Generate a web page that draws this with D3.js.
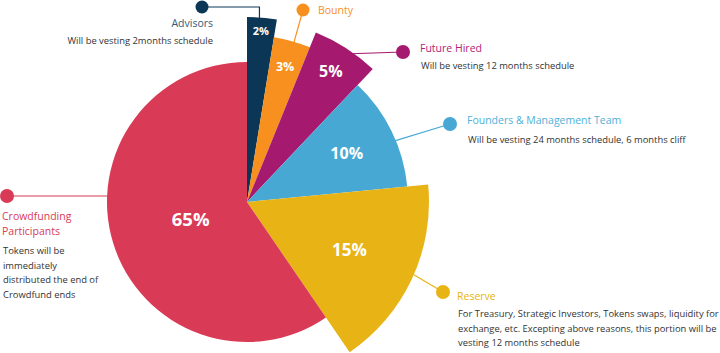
<!DOCTYPE html>
<html>
<head>
<meta charset="utf-8">
<script src="https://cdn.jsdelivr.net/npm/d3@7"></script>
<style>
  html, body { margin: 0; padding: 0; background: #fff; }
  svg { display: block; font-family: "Open Sans", sans-serif; }
</style>
</head>
<body>
<svg id="chart" width="720" height="353"></svg>
<script>
// ---- data ----
const categories = ["Advisors", "Bounty", "Future Hired", "Founders & Management Team", "Reserve", "Crowdfunding Participants"];
const percentLabels = ["2%", "3%", "5%", "10%", "15%", "65%"];
// slice shares as drawn in the picture (angular share, %)
const shares = [2.58, 3.56, 5.92, 11.4, 17.0, 59.54];
const descriptions = [
  ["Will be vesting 2months schedule"],
  [],
  ["Will be vesting 12 months schedule"],
  ["Will be vesting 24 months schedule, 6 months cliff"],
  ["For Treasury, Strategic Investors, Tokens swaps, liquidity for",
   "exchange, etc. Excepting above reasons, this portion will be",
   "vesting 12 months schedule"],
  ["Tokens will be", "immediately", "distributed the end of", "Crowdfund ends"]
];
const titleLines = [["Advisors"], ["Bounty"], ["Future Hired"], ["Founders & Management Team"], ["Reserve"], ["Crowdfunding", "Participants"]];

// ---- styles / layout ----
const colors = ["#0c3656", "#f7901e", "#a5196f", "#47a9d3", "#e8b315", "#d93a55"];
const titleColors = ["#2f5a7a", "#f7901e", "#b0237a", "#4fb0d8", "#e8b315", "#d93a55"];
const center = { x: 247, y: 202 };
const outerR = [185, 167, 183, 161, 182, 140];
const labelR = [172, 141, 155, 111, 113, 59];
const labelSize = [11, 12.5, 16, 16, 17, 18.5];
// callout layout: dot position, line start angle (deg) on the arc, text anchor & positions
const callouts = [
  { dot: [202, 7], startDeg: 3.9, elbow: true, anchor: "end", tx: 213, ty: 27, dx: 213, dy: 44, lh: 14 },
  { dot: [303, 10], startDeg: 16.4, anchor: "start", tx: 318, ty: 14, dx: 318, dy: 30, lh: 14 },
  { dot: [403, 52], startDeg: 35, anchor: "start", tx: 420, ty: 52, dx: 421, dy: 69, lh: 14 },
  { dot: [450, 124], startDeg: 67.5, anchor: "start", tx: 467, ty: 124, dx: 468, dy: 143, lh: 14 },
  { dot: [443, 292], startDeg: 113.5, anchor: "start", tx: 457, ty: 300, dx: 458, dy: 317, lh: 14.5 },
  { dot: [7, 196], startDeg: 272.5, anchor: "start", tx: 2, ty: 220, dx: 3, dy: 254, lh: 14.7, tlh: 15 }
];

const svg = d3.select("#chart");
const g = svg.append("g").attr("transform", `translate(${center.x},${center.y})`);

const pie = d3.pie().sort(null).value(d => d);
const arcs = pie(shares);
const arc = d3.arc().innerRadius(0).outerRadius((d) => outerR[d.index]);

const toXY = (deg, r) => {
  const a = deg * Math.PI / 180;
  return [center.x + r * Math.sin(a), center.y - r * Math.cos(a)];
};
callouts.forEach((c, i) => {
  const p0 = toXY(c.startDeg, outerR[i] - 2);
  const pts = c.elbow ? [[p0[0], p0[1]], [p0[0], c.dot[1]], c.dot] : [p0, c.dot];
  svg.append("path")
    .attr("d", d3.line()(pts))
    .attr("fill", "none")
    .attr("stroke", colors[i])
    .attr("stroke-width", 1.2);
  svg.append("circle")
    .attr("cx", c.dot[0]).attr("cy", c.dot[1])
    .attr("r", i === 0 || i === 1 ? 6.5 : 7)
    .attr("fill", colors[i]);
});

g.selectAll("path.slice")
  .data(arcs)
  .join("path")
  .attr("class", "slice")
  .attr("d", arc)
  .attr("fill", (d, i) => colors[i]);

g.selectAll("text.pct")
  .data(arcs)
  .join("text")
  .attr("class", "pct")
  .attr("transform", (d, i) => {
    const c = d3.arc().innerRadius(labelR[i]).outerRadius(labelR[i]).centroid(d);
    return `translate(${c[0]},${c[1]})`;
  })
  .attr("text-anchor", "middle")
  .attr("dy", "0.36em")
  .attr("fill", "#fff")
  .attr("font-weight", 700)
  .attr("font-size", (d, i) => labelSize[i])
  .text((d, i) => percentLabels[i]);

callouts.forEach((c, i) => {
  const t = svg.append("text")
    .attr("text-anchor", c.anchor)
    .attr("fill", titleColors[i])
    .attr("font-size", 10.5);
  titleLines[i].forEach((line, j) => {
    t.append("tspan").attr("x", c.tx).attr("y", c.ty + j * (c.tlh || 15)).text(line);
  });
  const s = svg.append("text")
    .attr("text-anchor", c.anchor)
    .attr("fill", "#333")
    .attr("font-size", 9.4);
  descriptions[i].forEach((line, j) => {
    s.append("tspan").attr("x", c.dx).attr("y", c.dy + j * c.lh).text(line);
  });
});
</script>
</body>
</html>
